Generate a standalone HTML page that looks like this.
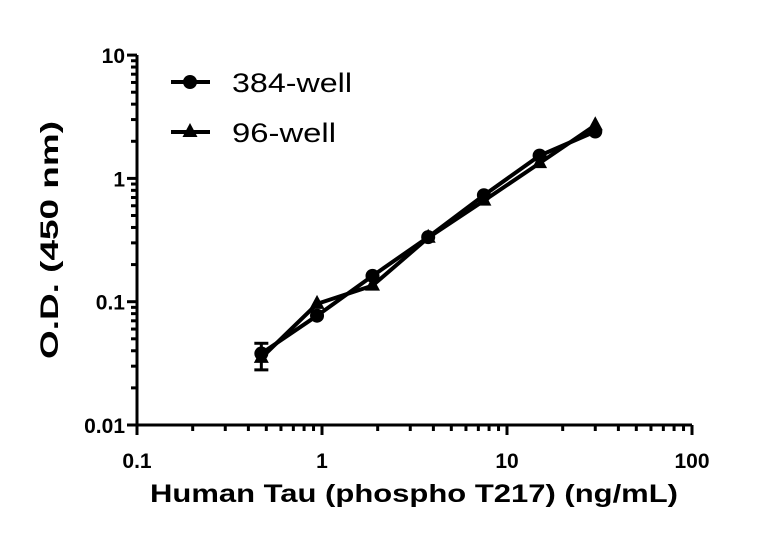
<!DOCTYPE html>
<html><head><meta charset="utf-8"><style>
html,body{margin:0;padding:0;background:#fff;}
svg{display:block;font-family:"Liberation Sans",sans-serif;}
</style></head><body>
<svg id="chart" width="768" height="534" xmlns="http://www.w3.org/2000/svg"></svg>
<script>
const xValues=[0.47,0.94,1.875,3.75,7.5,15,30];
const series384=[0.038,0.077,0.162,0.334,0.73,1.53,2.4];
const series96=[0.035,0.096,0.135,0.33,0.66,1.33,2.7];
const err384Low=[0.028,0,0,0,0,0,0];
const err384High=[0.046,0,0,0,0,0,0];
const xTicks=[0.1,1,10,100];
const xTickLabels=["0.1","1","10","100"];
const yTicks=[0.01,0.1,1,10];
const yTickLabels=["0.01","0.1","1","10"];
const NS="http://www.w3.org/2000/svg";
const svg=document.getElementById('chart');
const X0=137,XD=185,Y0=425,YD=123.3;
function sx(v){return X0+(Math.log10(v)+1)*XD;}
function sy(v){return Y0-(Math.log10(v)+2)*YD;}
function mk(t,a,p){const e=document.createElementNS(NS,t);for(const k in a)e.setAttribute(k,a[k]);(p||svg).appendChild(e);return e;}
let ax=mk('line',{x1:X0-1.5,y1:Y0,x2:692,y2:Y0,stroke:'#000','stroke-width':3});


let ay=mk('line',{x1:X0,y1:Y0+1.5,x2:X0,y2:55,stroke:'#000','stroke-width':3});


for(let d=-1;d<2;d++){for(let m=1;m<10;m++){const v=m*Math.pow(10,d);const x=sx(v);const L=m==1?10:6;
 let t=mk('line',{x1:x,y1:Y0,x2:x,y2:Y0+L,stroke:'#000','stroke-width':3});
 
 }}
mk('line',{x1:sx(100),y1:Y0,x2:sx(100),y2:Y0+10,stroke:'#000','stroke-width':3});
for(let d=-2;d<1;d++){for(let m=1;m<10;m++){const v=m*Math.pow(10,d);const y=sy(v);const L=m==1?10:6;
 let t=mk('line',{x1:X0,y1:y,x2:X0-L,y2:y,stroke:'#000','stroke-width':3});
 
 }}
mk('line',{x1:X0,y1:sy(10),x2:X0-10,y2:sy(10),stroke:'#000','stroke-width':3});
xTicks.forEach((v,i)=>{let t=mk('text',{x:sx(v),y:Y0+43,'text-anchor':'middle','font-size':21,'font-weight':'bold'});t.textContent=xTickLabels[i];
 
 });
yTicks.forEach((v,i)=>{let t=mk('text',{x:X0-12,y:sy(v)+8,'text-anchor':'end','font-size':21,'font-weight':'bold'});t.textContent=yTickLabels[i];
 
 });
let xt=mk('text',{x:150,y:502,'font-size':25,'font-weight':'bold',textLength:528,lengthAdjust:'spacingAndGlyphs'});xt.textContent='Human Tau (phospho T217) (ng/mL)';


let yt=mk('text',{x:-359,y:0,'font-size':25,'font-weight':'bold',textLength:238,lengthAdjust:'spacingAndGlyphs',transform:'translate(58,0) rotate(-90)'});yt.textContent='O.D. (450 nm)';


function tri(x,y,p){return mk('polygon',{points:`${x},${y-9} ${x-7.5},${y+5} ${x+7.5},${y+5}`,fill:'#000'},p);}
let g96=mk('g',{});


mk('polyline',{points:xValues.map((x,i)=>sx(x)+','+sy(series96[i])).join(' '),fill:'none',stroke:'#000','stroke-width':4},g96);
xValues.forEach((x,i)=>{let p=tri(sx(x),sy(series96[i]),g96);
 
 });
let g384=mk('g',{});


mk('polyline',{points:xValues.map((x,i)=>sx(x)+','+sy(series384[i])).join(' '),fill:'none',stroke:'#000','stroke-width':4},g384);
xValues.forEach((x,i)=>{
 if(err384Low[i]>0){const xx=sx(x);
  mk('line',{x1:xx,y1:sy(err384Low[i]),x2:xx,y2:sy(err384High[i]),stroke:'#000','stroke-width':3},g384);
  mk('line',{x1:xx-7,y1:sy(err384Low[i]),x2:xx+7,y2:sy(err384Low[i]),stroke:'#000','stroke-width':3},g384);
  mk('line',{x1:xx-7,y1:sy(err384High[i]),x2:xx+7,y2:sy(err384High[i]),stroke:'#000','stroke-width':3},g384);}
 let c=mk('circle',{cx:sx(x),cy:sy(series384[i]),r:7,fill:'#000'},g384);
 
 });
let lg=mk('g',{});


mk('line',{x1:171,y1:82,x2:210,y2:82,stroke:'#000','stroke-width':4},lg);
mk('circle',{cx:190,cy:82,r:7,fill:'#000'},lg);
let l1=mk('text',{x:232,y:92,'font-size':27,textLength:120,lengthAdjust:'spacingAndGlyphs'},lg);l1.textContent='384-well';


mk('line',{x1:171,y1:132,x2:210,y2:132,stroke:'#000','stroke-width':4},lg);
tri(190,132,lg);
let l2=mk('text',{x:232,y:142,'font-size':27,textLength:104,lengthAdjust:'spacingAndGlyphs'},lg);l2.textContent='96-well';


</script>
</body></html>
